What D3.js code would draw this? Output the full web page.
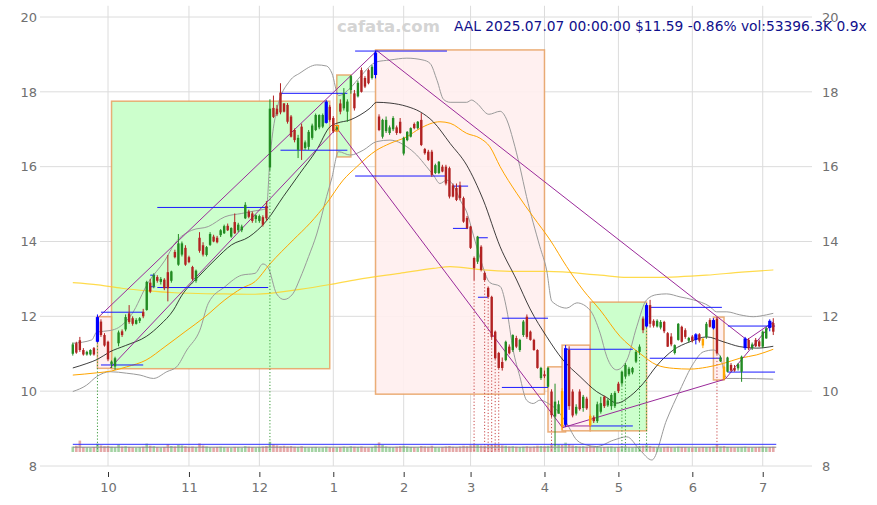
<!DOCTYPE html>
<html><head><meta charset="utf-8">
<script src="https://cdn.jsdelivr.net/npm/d3@7"></script>
<style>body{margin:0;background:#fff}svg{display:block}</style>
</head><body>
<svg id="c" width="877" height="505"></svg>
<script>
// ---------- data ----------
const monthTickIdx = [10,33,53,74,94,113,134,155,176,196];
const monthTickLabels = ['10','11','12','1','2','3','4','5','6','7'];
const priceTicks = [8,10,12,14,16,18,20];

const open = [11.00,11.28,11.36,11.10,10.98,10.98,11.15,11.32,11.86,11.50,
11.32,10.72,10.66,11.28,11.60,11.65,12.08,11.95,11.80,11.88,
12.12,12.17,12.90,12.80,13.05,12.92,12.98,13.18,12.95,13.72,
13.38,13.65,13.83,13.58,13.32,12.95,14.10,13.90,13.64,13.91,
14.13,14.10,14.17,14.22,14.42,14.13,14.52,14.30,14.30,14.62,
14.80,14.75,14.60,14.55,14.65,14.95,15.98,17.57,17.55,17.98,
17.69,17.65,17.34,16.98,16.45,17.07,16.50,16.53,16.77,16.98,
17.05,17.07,17.17,17.60,17.30,17.00,17.69,17.56,17.47,18.05,
17.96,17.88,18.58,18.37,18.58,18.37,18.45,17.34,16.80,16.95,
16.90,17.00,17.05,17.20,16.35,16.71,16.80,17.14,17.03,17.25,
16.47,16.40,16.40,15.83,15.83,16.00,16.00,15.96,15.50,15.43,
15.50,15.16,14.63,14.40,13.56,13.46,13.86,13.16,12.76,12.52,
11.59,11.02,10.78,10.83,11.19,11.10,11.42,11.10,11.50,11.99,
11.59,11.37,11.10,10.35,10.45,10.12,9.99,9.32,9.40,10.00,
9.10,11.10,9.99,9.40,9.99,9.55,9.80,9.34,9.30,9.20,
9.45,9.85,9.62,9.60,9.60,10.20,10.21,10.39,10.45,10.50,
10.79,11.05,11.94,11.73,12.30,11.88,11.73,11.70,11.85,11.55,
11.46,11.02,11.37,11.72,11.63,11.35,11.46,11.37,11.52,11.40,
11.45,11.90,11.68,11.94,10.80,10.65,10.52,10.70,10.62,10.61,
10.52,11.15,11.37,11.15,11.37,11.33,11.19,11.41,11.88,11.82];
const high = [11.30,11.32,11.45,11.15,11.08,11.12,11.18,12.05,11.92,11.55,
11.35,10.82,10.92,11.62,11.65,12.05,12.30,12.00,11.95,11.98,
12.20,12.95,13.00,13.15,13.10,13.05,13.02,13.64,13.22,13.78,
14.20,14.00,13.90,13.62,13.35,13.25,14.25,13.98,13.88,14.25,
14.18,14.15,14.33,14.45,14.48,14.38,14.75,14.50,14.45,15.05,
14.85,14.80,14.72,14.72,14.70,15.08,17.80,17.90,17.65,18.23,
17.70,17.70,17.38,17.02,16.85,17.15,16.70,16.98,17.15,17.42,
17.40,17.42,17.78,17.65,17.35,17.10,17.80,18.10,17.80,18.45,
18.05,18.30,18.65,18.42,18.62,18.72,19.10,17.40,17.28,17.34,
17.10,17.35,17.10,17.30,16.80,16.95,17.05,17.18,17.22,17.43,
16.50,16.45,16.45,16.08,16.15,16.05,16.05,16.00,15.55,15.55,
15.60,15.20,14.68,14.42,13.60,14.15,13.90,13.20,12.80,12.55,
11.62,11.05,10.90,11.35,11.25,11.52,11.48,11.40,11.90,12.05,
11.62,11.40,11.12,10.65,10.55,10.65,10.05,10.20,9.75,10.08,
11.23,11.20,10.05,9.65,10.05,9.90,9.85,9.38,9.35,9.72,
9.85,9.88,9.80,9.95,10.00,10.25,10.55,10.75,10.65,10.65,
11.10,11.25,12.00,12.35,12.44,11.92,11.92,11.90,11.88,11.58,
11.55,11.25,11.82,11.75,11.68,11.45,11.50,11.55,11.55,11.42,
11.85,11.95,11.95,11.98,10.95,10.68,10.92,10.75,10.70,10.75,
10.95,11.45,11.42,11.30,11.42,11.38,11.62,11.72,11.92,11.95];
const low = [10.95,11.00,11.05,10.95,10.95,10.95,10.95,11.30,11.45,11.19,
10.80,10.62,10.57,11.20,11.45,11.60,11.80,11.75,11.78,11.82,
11.95,12.15,12.62,12.75,12.90,12.85,12.70,12.40,12.90,13.55,
13.35,13.60,13.35,13.42,12.95,12.90,13.70,13.60,13.60,13.88,
13.98,13.95,14.12,14.20,14.28,14.10,14.20,14.25,14.25,14.60,
14.62,14.50,14.50,14.50,14.40,14.55,15.90,17.30,17.35,17.40,
17.45,17.15,16.78,16.65,16.23,16.18,16.45,16.45,16.72,16.95,
17.00,17.03,17.15,17.20,16.90,16.95,17.40,17.50,17.20,17.95,
17.50,17.85,17.98,18.10,18.20,18.33,18.36,16.95,16.75,16.90,
16.85,16.95,16.85,16.88,16.30,16.68,16.78,17.00,17.00,16.55,
16.32,16.15,15.73,15.80,15.80,15.85,15.50,15.15,15.18,15.08,
15.10,14.50,14.33,13.80,12.97,13.40,13.20,12.95,12.50,11.40,
10.85,10.60,10.55,10.80,10.98,11.05,11.15,11.05,11.45,11.40,
11.35,11.08,10.60,10.30,10.35,10.10,9.30,8.56,9.40,8.96,
9.05,9.50,9.30,9.35,9.48,9.45,9.50,9.05,9.15,9.15,
9.40,9.55,9.58,9.50,9.55,9.95,10.15,10.35,10.40,10.45,
10.75,11.00,11.55,11.70,11.70,11.70,11.70,11.65,11.55,11.18,
11.20,10.98,11.35,11.30,11.40,11.30,11.30,11.25,11.30,11.15,
11.40,11.70,11.65,10.98,10.78,10.30,10.50,10.52,10.52,10.55,
10.25,11.10,11.10,11.10,11.18,11.18,11.15,11.40,11.60,11.50];
const close = [11.25,11.03,11.10,10.98,11.05,11.10,10.98,11.98,11.50,11.22,
10.85,10.79,10.88,11.57,11.50,11.98,11.85,11.80,11.90,11.95,
12.00,12.92,12.66,13.10,12.95,13.00,12.75,12.75,13.20,13.58,
13.95,13.95,13.38,13.45,13.00,13.22,13.75,13.65,13.85,14.20,
14.00,13.98,14.30,14.41,14.30,14.36,14.22,14.45,14.40,14.98,
14.66,14.55,14.70,14.68,14.45,14.62,17.55,17.33,17.40,17.45,
17.47,17.20,16.80,16.71,16.77,16.45,16.65,16.93,17.10,17.38,
17.38,17.38,17.74,17.25,16.94,17.05,17.47,17.96,17.74,18.42,
17.56,18.24,18.00,18.14,18.23,18.67,19.05,16.98,17.25,17.25,
17.05,17.30,16.90,16.90,16.77,16.93,17.03,17.03,17.20,16.58,
16.36,16.18,15.78,16.04,16.13,15.87,15.55,15.20,15.20,15.11,
15.16,14.53,14.36,13.83,13.29,14.13,13.24,12.97,12.52,11.45,
10.88,10.62,10.62,11.32,11.01,11.50,11.19,11.37,11.86,11.45,
11.37,11.10,10.62,10.62,10.40,10.62,9.36,9.72,9.65,9.05,
11.15,9.60,9.35,9.58,9.52,9.85,9.54,9.08,9.20,9.65,
9.68,9.60,9.75,9.90,9.95,10.00,10.52,10.70,10.60,10.62,
11.05,11.19,11.63,12.30,11.80,11.75,11.88,11.85,11.60,11.19,
11.25,11.23,11.80,11.32,11.45,11.42,11.35,11.52,11.35,11.22,
11.80,11.72,11.90,11.01,10.90,10.32,10.90,10.55,10.55,10.72,
10.92,11.41,11.15,11.25,11.20,11.20,11.59,11.68,11.69,11.59];
const volume = [45,52,95,40,38,36,42,70,55,48,
50,44,40,62,45,48,42,38,36,40,
44,70,52,48,40,38,42,65,50,46,
58,55,48,42,45,40,72,54,46,40,
38,42,44,40,38,36,42,40,36,48,
44,40,38,42,46,50,85,62,55,48,
52,46,50,44,42,48,40,38,40,42,
36,38,44,40,35,38,42,45,40,48,
44,42,46,40,38,42,55,80,58,46,
42,40,44,48,52,46,42,40,38,50,
46,44,52,40,38,42,46,50,44,42,
46,52,48,55,60,58,54,52,56,60,
62,58,55,52,46,48,44,42,45,48,
44,46,52,50,48,52,60,65,62,58,
78,66,55,50,46,48,44,50,42,44,
40,42,44,46,40,42,48,46,40,38,
44,48,52,56,50,44,40,38,42,44,
40,38,44,42,40,38,36,40,38,42,
40,42,44,60,46,48,42,40,38,40,
42,44,40,38,40,42,44,40,42,44];
const volAvg = 40, volHi = 64;

const blueIdx = [7,72,86,140,163,177,182,191,198];
const orangeIdx = [139,147,179,185];
const hollowIdx = [75];
const greenDotIdx = [7,56,137,156,157,161,163];
const redDotIdx = [114,117,118,119,120,121,136,183];

// indicator lines: [candle index, price]
const ma20 = [[0,10.62],[4,10.74],[7,10.85],[10.5,11.05],[15,11.22],[21,11.47],[24.8,11.77],[28.6,12.17],[30.9,12.55],[35.7,13.06],[40.4,13.51],[45.1,13.91],[50,14.12],[55,14.55],[59.8,15.2],[64.5,15.82],[69.3,16.45],[73.1,17.07],[75,17.16],[78.8,17.25],[81.6,17.38],[84.4,17.56],[86.3,17.72],[90.1,17.7],[94.9,17.61],[98.6,17.47],[102.4,17.2],[107.2,16.62],[111.9,16.04],[116.6,15.11],[121.4,13.86],[126.1,12.97],[129.9,12.2],[134.6,11.46],[139.3,10.83],[144.1,10.39],[148.8,9.99],[151.7,9.83],[154.5,9.68],[158.5,9.88],[162,10.2],[165.9,10.68],[170.6,11.1],[175.3,11.32],[180.1,11.45],[184.8,11.32],[189.5,11.19],[194.3,11.15],[199,11.2]];
const bbUpper = [[0,11.28],[5.4,11.37],[6.8,11.58],[10.6,11.62],[13,11.7],[16.7,12.05],[21.4,12.9],[26.2,13.5],[29,13.95],[33.8,14.3],[38.5,14.4],[43.2,14.66],[48,14.75],[51.8,14.82],[55,14.88],[56,16.2],[57.9,17.5],[61.7,18.3],[64.5,18.5],[69.3,18.72],[72.1,18.69],[73.6,18.5],[75.5,17.9],[78.8,18.1],[81.6,18.4],[86.3,18.8],[90.1,18.85],[94.9,18.9],[99.5,18.85],[101.5,18.76],[103.5,18.3],[105.3,17.8],[107.2,17.72],[111.9,17.72],[113.3,17.78],[114.7,17.7],[118.2,17.4],[121.4,17.48],[123.3,17.25],[125.1,16.71],[127,16.0],[128.9,15.2],[132.7,13.86],[134.6,13.24],[136.1,12.4],[140.3,12.22],[143.2,12.36],[146.9,12.17],[149.8,11.55],[151.7,10.92],[154.5,10.57],[157.4,10.83],[160.2,11.72],[163,12.44],[165.9,12.58],[168.7,12.6],[172.5,12.52],[176.3,12.44],[181,12.26],[182.9,12.12],[185.8,12.12],[189.5,12.04],[193.3,11.99],[197.1,12.04],[199,12.08]];
const bbLower = [[0,9.99],[3.9,10.16],[6.8,10.39],[10.6,10.52],[15.3,10.48],[19.1,10.43],[22.9,10.34],[26.7,10.52],[29.5,10.65],[32.4,11.1],[36.1,11.63],[38.5,12.35],[43.2,12.79],[48,13.1],[51.8,13.15],[54,13.4],[55.5,13.3],[57.9,12.6],[60,12.45],[62.5,12.6],[64.5,13.0],[67,13.6],[69.3,14.2],[72.1,15.2],[73.6,15.7],[75.5,16.4],[78.8,16.31],[82.5,16.44],[86.3,16.67],[90.1,16.71],[94.9,16.53],[97.7,16.31],[100.5,16.0],[102.4,15.78],[104.3,15.55],[106.2,15.64],[108.1,15.51],[110,15.11],[111.9,14.79],[113.8,14.17],[115.7,13.56],[118.5,12.9],[121.4,12.8],[123.3,12.17],[125.1,11.1],[127,10.39],[128.9,9.76],[130.8,9.67],[132.7,9.76],[135.1,9.67],[137.5,9.5],[140.3,9.14],[143.2,8.69],[146,8.56],[148.8,8.52],[153.6,8.69],[157.4,8.78],[161.1,8.43],[164.5,8.16],[168.7,9.23],[172.5,10.03],[176.3,10.74],[179.1,11.05],[182,11.1],[183.9,10.92],[185.8,10.34],[189.5,10.34],[199,10.32]];
const ma50 = [[0,10.43],[6.8,10.49],[11,10.54],[15.3,10.65],[20.8,10.83],[26.2,11.19],[31.9,11.59],[37.6,11.99],[43.2,12.44],[48,12.75],[51.8,12.93],[56,13.4],[62.6,14.04],[67.4,14.49],[72.1,15.02],[76.8,15.64],[80.7,16.0],[86.3,16.44],[90.1,16.62],[94.9,16.8],[98.6,17.02],[104.3,17.2],[107.2,17.16],[111.9,16.89],[115.7,16.76],[118.5,16.53],[121.4,16.0],[126.1,15.29],[130.8,14.66],[135.6,14.04],[140.3,13.33],[145,12.7],[149.8,12.17],[155.5,11.46],[161.1,11.01],[165.9,10.7],[170.6,10.61],[175.3,10.59],[180.1,10.64],[184.8,10.74],[189.5,10.88],[194.3,10.97],[199,11.12]];
const ma200 = [[0,12.9],[7.2,12.84],[13.9,12.75],[21.4,12.68],[29,12.63],[35.6,12.61],[43.2,12.6],[51.8,12.59],[64.5,12.72],[73.1,12.85],[80.7,12.98],[92.9,13.15],[102.4,13.28],[107.2,13.33],[116.6,13.24],[126.1,13.2],[134.6,13.2],[149.8,13.1],[157.4,13.04],[165.9,13.04],[180,13.1],[190,13.18],[199,13.24]];

// trend boxes [startIdx, endIdx, top, bottom, kind]
const boxes = [[11,73,17.75,10.6,'g'],[7,11,11.99,10.61,'p'],[75,79,18.45,16.26,'g'],[86,134,19.12,9.92,'p'],
  [135,140,10.65,8.91,'p'],[139,147,11.23,8.94,'p'],[147,163,12.38,8.94,'g'],[182,185,11.98,10.3,'p']];
// purple trend lines [i0,v0,i1,v1]
const trendLines = [[7,11.95,86.4,19.1],[10.6,10.62,75,17.03],[75,17.03,139,9.04],[86.4,19.1,191.5,11.37],
  [139,9.02,185.3,10.32],[185.3,10.32,199,11.85],[191.5,11.37,199,11.85],[139,9.07,147,9.07]];
// blue support / resistance segments [i0,i1,price]
const levels = [[8,20,12.11],[8,20,10.7],[22,23.4,13.1],[22,23.4,12.79],[24,55.5,14.91],[24,55.5,12.77],
  [59,78,17.96],[59,78,16.44],[80.2,106.3,19.09],[80.2,106.3,15.75],[108,112.3,15.48],[108,112.3,14.35],
  [115.1,117.9,14.1],[115.1,117.9,12.51],[121.9,135,11.95],[121.9,135,10.1],[140.4,159.1,11.12],[147,159.1,9.07],
  [163.9,184.4,12.24],[163.9,184.4,10.88],[186.1,199.5,11.74],[186.1,199.5,10.51]];

// ---------- drawing ----------
const svg = d3.select('#c');
svg.append('rect').attr('width',877).attr('height',505).attr('fill','#fff');
const x = d3.scaleLinear().domain([-9.32, 210]).range([40, 812]);
const y = d3.scaleLinear().domain([8, 20]).range([466, 17]);
const vy = d3.scaleLinear().domain([0, 100]).range([452, 440]);
const yTop = y(20.3);

// grid
const g = svg.append('g');
g.selectAll('.hg').data(priceTicks).enter().append('line')
  .attr('x1',40).attr('x2',812).attr('y1',d=>y(d)).attr('y2',d=>y(d))
  .attr('stroke','#dcdcdc').attr('stroke-width',1);
g.selectAll('.vg').data(monthTickIdx).enter().append('line')
  .attr('x1',d=>x(d)).attr('x2',d=>x(d)).attr('y1',yTop).attr('y2',y(8))
  .attr('stroke','#dcdcdc').attr('stroke-width',1);

// boxes
svg.append('g').selectAll('rect').data(boxes).enter().append('rect')
  .attr('x',d=>x(d[0])).attr('width',d=>x(d[1])-x(d[0]))
  .attr('y',d=>y(d[2])).attr('height',d=>y(d[3])-y(d[2]))
  .attr('fill',d=>d[4]==='g'?'#ccffcc':'#ffeeee')
  .attr('fill-opacity',d=>d[4]==='g'?1:0.9)
  .attr('stroke','#e8a060').attr('stroke-opacity',0.85).attr('stroke-width',1.5);

// indicator lines
const ln = d3.line().x(d=>x(d[0])).y(d=>y(d[1])).curve(d3.curveMonotoneX);
const lines = svg.append('g').attr('fill','none');
lines.append('path').attr('d',ln(ma200)).attr('stroke','#ffd21f').attr('stroke-width',1.2).attr('stroke-opacity',0.8);
lines.append('path').attr('d',ln(bbUpper)).attr('stroke','#9a9a9a').attr('stroke-width',1);
lines.append('path').attr('d',ln(bbLower)).attr('stroke','#9a9a9a').attr('stroke-width',1);
lines.append('path').attr('d',ln(ma50)).attr('stroke','#ffa500').attr('stroke-width',1);
lines.append('path').attr('d',ln(ma20)).attr('stroke','#111').attr('stroke-width',0.9).attr('stroke-opacity',0.9);

// trend lines
svg.append('g').selectAll('line').data(trendLines).enter().append('line')
  .attr('x1',d=>x(d[0])).attr('y1',d=>y(d[1])).attr('x2',d=>x(d[2])).attr('y2',d=>y(d[3]))
  .attr('stroke','#9a2a9a').attr('stroke-width',1);

// levels
svg.append('g').selectAll('line').data(levels).enter().append('line')
  .attr('x1',d=>x(d[0])).attr('x2',d=>x(d[1])).attr('y1',d=>y(d[2])).attr('y2',d=>y(d[2]))
  .attr('stroke','#1a1aff').attr('stroke-width',1);

// dotted markers
const dots = svg.append('g').attr('stroke-dasharray','1.2,2').attr('stroke-width',1);
dots.selectAll('.gd').data(greenDotIdx).enter().append('line')
  .attr('x1',d=>x(d)).attr('x2',d=>x(d)).attr('y1',d=>y(low[d])).attr('y2',vy(0))
  .attr('stroke','#3a9a3a');
dots.selectAll('.rd').data(redDotIdx).enter().append('line')
  .attr('x1',d=>x(d)).attr('x2',d=>x(d)).attr('y1',d=>y(low[d])).attr('y2',vy(0))
  .attr('stroke','#c84848');

// volume
const idx = d3.range(close.length);
svg.append('g').selectAll('rect').data(idx).enter().append('rect')
  .attr('x',i=>x(i)-1.3).attr('width',2.6)
  .attr('y',i=>vy(volume[i])).attr('height',i=>vy(0)-vy(volume[i]))
  .attr('fill',i=>close[i]>=open[i]?'#5aae5a':'#d06060').attr('fill-opacity',0.55);
svg.append('line').attr('x1',x(0)).attr('x2',x(199)+3).attr('y1',vy(volAvg)).attr('y2',vy(volAvg))
  .attr('stroke','#888').attr('stroke-width',1);
svg.append('line').attr('x1',x(0)).attr('x2',x(199)+3).attr('y1',vy(volHi)).attr('y2',vy(volHi))
  .attr('stroke','#3333ff').attr('stroke-width',1);

// candles
function colorOf(i){
  if (blueIdx.includes(i)) return '#0000ff';
  if (orangeIdx.includes(i)) return '#ffa500';
  return close[i]>=open[i] ? '#228b22' : '#b22222';
}
const cg = svg.append('g');
const cs = cg.selectAll('g').data(idx).enter().append('g');
cs.append('line').attr('x1',i=>x(i)).attr('x2',i=>x(i)).attr('y1',i=>y(high[i])).attr('y2',i=>y(low[i]))
  .attr('stroke',colorOf).attr('stroke-width',1);
cs.append('rect')
  .attr('x',i=>x(i)-(blueIdx.includes(i)?1.6:1.2)).attr('width',i=>blueIdx.includes(i)?3.2:2.4)
  .attr('y',i=>y(Math.max(open[i],close[i])))
  .attr('height',i=>Math.max(1,Math.abs(y(open[i])-y(close[i]))))
  .attr('fill',colorOf);
cg.selectAll('.hol').data(hollowIdx).enter().append('rect')
  .attr('x',i=>x(i)-1.8).attr('width',3.6).attr('y',i=>y(high[i])).attr('height',i=>y(low[i])-y(high[i]))
  .attr('fill','none').attr('stroke','#ff8c00').attr('stroke-width',1);

// axes
const axFont = 'DejaVu Sans, sans-serif';
const left = svg.append('g').attr('transform','translate(40,0)')
  .call(d3.axisLeft(y).tickValues(priceTicks).tickSize(0).tickPadding(3));
const right = svg.append('g').attr('transform','translate(812,0)')
  .call(d3.axisRight(y).tickValues(priceTicks).tickSize(0).tickPadding(10));
const bottom = svg.append('g').attr('transform','translate(0,472)')
  .call(d3.axisBottom(x).tickValues(monthTickIdx).tickFormat((d,k)=>monthTickLabels[k]).tickSize(5).tickPadding(6));
[left,right,bottom].forEach(a=>{
  a.select('.domain').remove();
  a.selectAll('text').attr('font-family',axFont).attr('font-size',13).attr('fill','#707070');
});
bottom.selectAll('line').attr('stroke','#333');

// titles
svg.append('text').attr('x',337).attr('y',32).text('cafata.com')
  .attr('font-family',axFont).attr('font-weight','bold').attr('font-size',16.5).attr('fill','#d4d4d4');
svg.append('text').attr('x',454).attr('y',31).text('AAL 2025.07.07 00:00:00 $11.59 -0.86% vol:53396.3K 0.9x')
  .attr('font-family',axFont).attr('font-size',13.8).attr('fill','#10108c');
</script>
</body></html>
